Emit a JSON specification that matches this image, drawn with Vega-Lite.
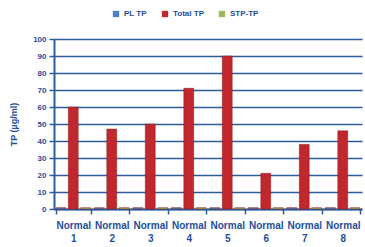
{
  "$schema": "https://vega.github.io/schema/vega-lite/v6.json",
  "width": 365,
  "height": 247,
  "autosize": {"type": "fit", "contains": "padding"},
  "padding": {"left": 9, "top": 35, "right": 3, "bottom": 4},
  "background": "white",
  "config": {
    "view": {"stroke": null},
    "font": "Liberation Sans"
  },
  "data": {
    "values": [
      {"sample": "Normal 1", "series": "PL TP", "tp": 0.8},
      {"sample": "Normal 1", "series": "Total TP", "tp": 60},
      {"sample": "Normal 1", "series": "STP-TP", "tp": 0.8},
      {"sample": "Normal 2", "series": "PL TP", "tp": 0.8},
      {"sample": "Normal 2", "series": "Total TP", "tp": 47},
      {"sample": "Normal 2", "series": "STP-TP", "tp": 0.8},
      {"sample": "Normal 3", "series": "PL TP", "tp": 0.8},
      {"sample": "Normal 3", "series": "Total TP", "tp": 50},
      {"sample": "Normal 3", "series": "STP-TP", "tp": 0.8},
      {"sample": "Normal 4", "series": "PL TP", "tp": 0.8},
      {"sample": "Normal 4", "series": "Total TP", "tp": 71},
      {"sample": "Normal 4", "series": "STP-TP", "tp": 0.8},
      {"sample": "Normal 5", "series": "PL TP", "tp": 0.8},
      {"sample": "Normal 5", "series": "Total TP", "tp": 90},
      {"sample": "Normal 5", "series": "STP-TP", "tp": 0.8},
      {"sample": "Normal 6", "series": "PL TP", "tp": 0.8},
      {"sample": "Normal 6", "series": "Total TP", "tp": 21},
      {"sample": "Normal 6", "series": "STP-TP", "tp": 0.8},
      {"sample": "Normal 7", "series": "PL TP", "tp": 0.8},
      {"sample": "Normal 7", "series": "Total TP", "tp": 38},
      {"sample": "Normal 7", "series": "STP-TP", "tp": 0.8},
      {"sample": "Normal 8", "series": "PL TP", "tp": 0.8},
      {"sample": "Normal 8", "series": "Total TP", "tp": 46},
      {"sample": "Normal 8", "series": "STP-TP", "tp": 0.8}
    ]
  },
  "mark": {"type": "bar", "stroke": "#8B1A1A", "strokeWidth": 0.5},
  "encoding": {
    "x": {
      "field": "sample",
      "type": "nominal",
      "sort": null,
      "scale": {"paddingInner": 0.1, "paddingOuter": 0.05},
      "axis": {
        "title": null,
        "labelAngle": 0,
        "labelExpr": "datum.value ? split(datum.value, ' ') : ''",
        "labelFont": "Liberation Sans",
        "labelFontWeight": "bold",
        "labelFontSize": 10,
        "labelColor": "#1F4E9A",
        "labelLineHeight": 13,
        "labelPadding": 6,
        "domainColor": "#2E5C9A",
        "domainWidth": 2,
        "tickColor": "#2E5C9A",
        "tickWidth": 1.5,
        "tickSize": 5,
        "tickBand": "extent"
      }
    },
    "xOffset": {"field": "series", "type": "nominal", "sort": ["PL TP", "Total TP", "STP-TP"], "scale": {"paddingInner": 0.2}},
    "y": {
      "field": "tp",
      "type": "quantitative",
      "scale": {"domain": [0, 100]},
      "axis": {
        "title": "TP (µg/ml)",
        "titleFont": "Liberation Sans",
        "titleFontWeight": "bold",
        "titleFontSize": 9,
        "titleColor": "#1F4E9A",
        "titlePadding": 14,
        "values": [0, 10, 20, 30, 40, 50, 60, 70, 80, 90, 100],
        "labelFont": "Liberation Sans",
        "labelFontWeight": "bold",
        "labelFontSize": 8,
        "labelColor": "#1F4E9A",
        "labelPadding": 3,
        "domainColor": "#2E5C9A",
        "domainWidth": 2,
        "tickColor": "#2E5C9A",
        "tickWidth": 1.5,
        "tickSize": 5,
        "grid": true,
        "gridColor": "#2E5C9A",
        "gridWidth": 1.5
      }
    },
    "color": {
      "field": "series",
      "type": "nominal",
      "sort": ["PL TP", "Total TP", "STP-TP"],
      "scale": {"domain": ["PL TP", "Total TP", "STP-TP"], "range": ["#4F81BD", "#C0282D", "#9BBB59"]},
      "legend": {
        "title": null,
        "orient": "none",
        "legendX": 58,
        "legendY": -29,
        "direction": "horizontal",
        "symbolType": "square",
        "symbolSize": 40,
        "symbolStrokeWidth": 0,
        "labelFont": "Liberation Sans",
        "labelFontWeight": "bold",
        "labelFontSize": 8,
        "labelColor": "#1F4E9A",
        "columnPadding": 14
      }
    }
  }
}
